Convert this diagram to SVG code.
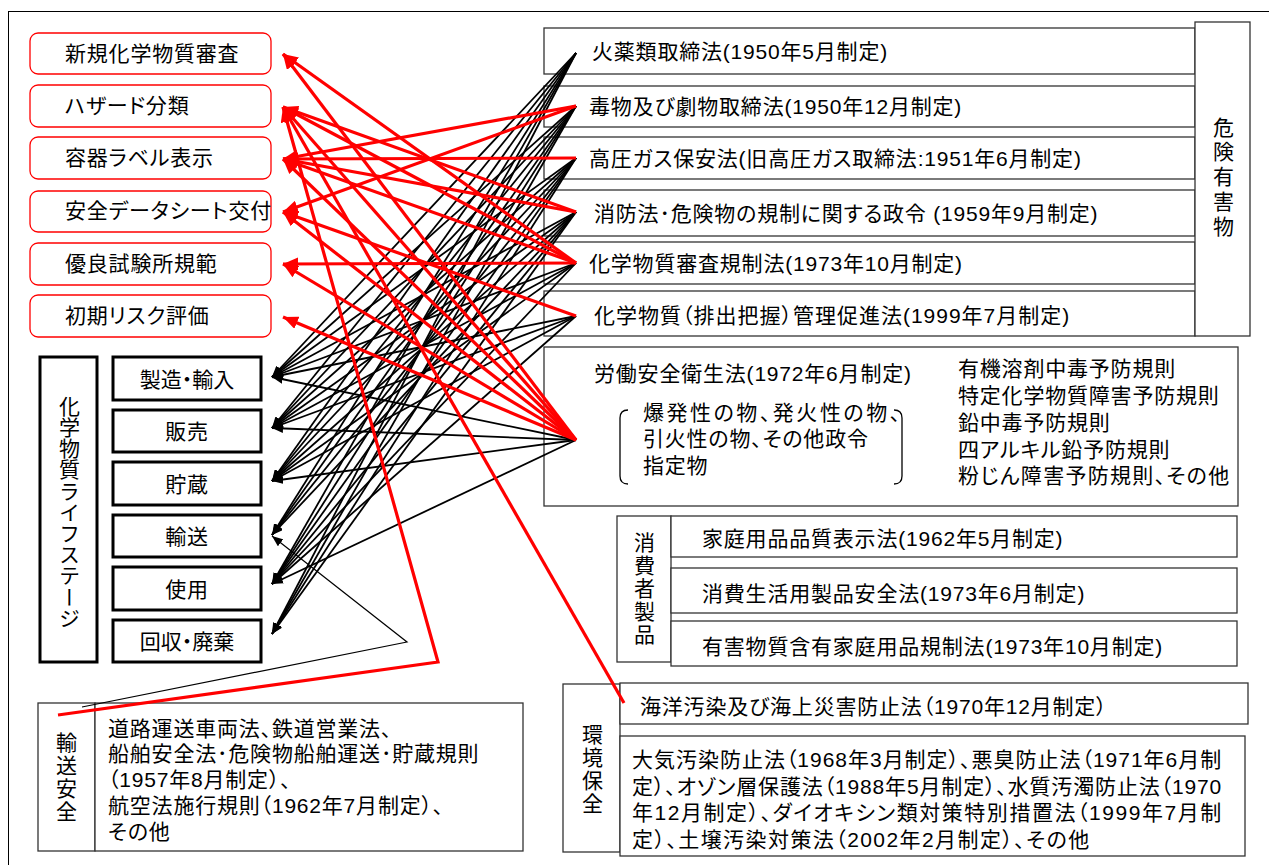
<svg xmlns="http://www.w3.org/2000/svg" width="1269" height="865" viewBox="0 0 1269 865">
<style>
text{font-family:"Liberation Sans","Noto Sans CJK JP",sans-serif;font-size:21px;fill:#000;letter-spacing:0.8px;font-feature-settings:"palt" 1}
.v{writing-mode:vertical-rl;text-anchor:middle;font-feature-settings:normal}
.m{text-anchor:middle}
.rb{fill:#fff;stroke:#f00;stroke-width:1.3}
.bx{fill:#fff;stroke:#333;stroke-width:1.3}
.sb{fill:#fff;stroke:#000;stroke-width:3}
.k{stroke:#000;stroke-width:1.8;fill:none;marker-end:url(#ab)}
.kt{stroke:#000;stroke-width:1.2;fill:none;marker-end:url(#ab)}
.r{stroke:#f00;stroke-width:3.2;fill:none;marker-end:url(#ar)}
.br{fill:none;stroke:#000;stroke-width:1.3}
</style>
<defs>
<marker id="ar" markerUnits="userSpaceOnUse" viewBox="0 0 15 13" markerWidth="15" markerHeight="13" refX="15" refY="6.5" orient="auto"><path d="M0,0 L15,6.5 L0,13 z" fill="#f00"/></marker>
<marker id="ab" markerUnits="userSpaceOnUse" viewBox="0 0 11 9" markerWidth="11" markerHeight="9" refX="11" refY="4.5" orient="auto"><path d="M0,0 L11,4.5 L0,9 z" fill="#000"/></marker>
</defs>
<rect x="8.5" y="11.5" width="1275" height="870" fill="#fff" stroke="#000" stroke-width="1"/>

<g id="hazard-elements">
<g id="n-shinki"><rect class="rb" x="30" y="33" width="241" height="41" rx="8"/><text x="65" y="61">新規化学物質審査</text></g>
<g id="n-hazard"><rect class="rb" x="30" y="85" width="241" height="42" rx="8"/><text x="65" y="113">ハザード分類</text></g>
<g id="n-label"><rect class="rb" x="30" y="137" width="241" height="42" rx="8"/><text x="65" y="165">容器ラベル表示</text></g>
<g id="n-sds"><rect class="rb" x="30" y="191" width="241" height="41" rx="8"/><text x="65" y="218">安全データシート交付</text></g>
<g id="n-glp"><rect class="rb" x="30" y="243" width="241" height="42" rx="8"/><text x="65" y="271">優良試験所規範</text></g>
<g id="n-risk"><rect class="rb" x="30" y="295" width="241" height="42" rx="8"/><text x="65" y="323">初期リスク評価</text></g>
</g>

<g id="lifecycle">
<g id="n-lc"><rect class="sb" x="40" y="357" width="57" height="305"/><text class="v" x="68" y="512" style="letter-spacing:0.2px">化学物質ライフステージ</text></g>
<g id="n-mfg"><rect class="sb" x="113" y="357" width="148" height="43"/><text class="m" x="187" y="387" style="letter-spacing:0px">製造・輸入</text></g>
<g id="n-sale"><rect class="sb" x="113" y="410" width="148" height="42"/><text class="m" x="187" y="439">販売</text></g>
<g id="n-store"><rect class="sb" x="113" y="462" width="148" height="43"/><text class="m" x="187" y="492">貯蔵</text></g>
<g id="n-trans"><rect class="sb" x="113" y="515" width="148" height="42"/><text class="m" x="187" y="544">輸送</text></g>
<g id="n-use"><rect class="sb" x="113" y="567" width="148" height="43"/><text class="m" x="187" y="597">使用</text></g>
<g id="n-waste"><rect class="sb" x="113" y="620" width="148" height="42"/><text class="m" x="187" y="649" style="letter-spacing:0px">回収・廃棄</text></g>
</g>

<g id="hazardous-laws">
<g id="n-kayaku"><rect class="bx" x="544" y="28" width="651" height="46"/><text x="592" y="59">火薬類取締法(1950年5月制定)</text></g>
<g id="n-doku"><rect class="bx" x="544" y="86" width="651" height="41"/><text x="589" y="114">毒物及び劇物取締法(1950年12月制定)</text></g>
<g id="n-gas"><rect class="bx" x="544" y="137" width="651" height="42"/><text x="589" y="166">高圧ガス保安法(旧高圧ガス取締法:1951年6月制定)</text></g>
<g id="n-fire"><rect class="bx" x="544" y="190" width="651" height="46"/><text x="594" y="221">消防法･危険物の規制に関する政令 (1959年9月制定)</text></g>
<g id="n-kashin"><rect class="bx" x="544" y="242" width="651" height="42"/><text x="589" y="271">化学物質審査規制法(1973年10月制定)</text></g>
<g id="n-prtr"><rect class="bx" x="544" y="291" width="651" height="45"/><text x="594" y="323" textLength="476">化学物質（排出把握）管理促進法(1999年7月制定)</text></g>
<g id="n-kiken"><rect class="bx" x="1195" y="22" width="55" height="314"/><text class="v" x="1222" y="178" style="letter-spacing:3.7px">危険有害物</text></g>
</g>

<g id="n-roan">
<rect class="bx" x="544" y="347" width="694" height="159"/>
<text x="594" y="381">労働安全衛生法(1972年6月制定)</text>
<path class="br" d="M628,410 Q620,410 620,418 L620,476 Q620,484 628,484"/>
<path class="br" d="M894,410 Q902,410 902,418 L902,476 Q902,484 894,484"/>
<text x="643" y="420" textLength="258">爆発性の物、発火性の物、</text>
<text x="643" y="446">引火性の物、その他政令</text>
<text x="643" y="473">指定物</text>
<text x="958" y="376">有機溶剤中毒予防規則</text>
<text x="958" y="403">特定化学物質障害予防規則</text>
<text x="958" y="430">鉛中毒予防規則</text>
<text x="958" y="457">四アルキル鉛予防規則</text>
<text x="958" y="483" textLength="272">粉じん障害予防規則、その他</text>
</g>

<g id="consumer">
<g id="n-cons"><rect class="bx" x="617" y="516" width="54" height="146"/><text class="v" x="643" y="589" style="letter-spacing:2px">消費者製品</text></g>
<g id="n-katei"><rect class="bx" x="671" y="516" width="566" height="41"/><text x="702" y="546">家庭用品品質表示法(1962年5月制定)</text></g>
<g id="n-shohi"><rect class="bx" x="671" y="568" width="566" height="45"/><text x="702" y="601">消費生活用製品安全法(1973年6月制定)</text></g>
<g id="n-yugai"><rect class="bx" x="671" y="621" width="566" height="45"/><text x="702" y="654">有害物質含有家庭用品規制法(1973年10月制定)</text></g>
</g>

<g id="environment">
<g id="n-env"><rect class="bx" x="563" y="684" width="57" height="168"/><text class="v" x="591" y="770" style="letter-spacing:2px">環境保全</text></g>
<g id="n-kaiyo"><rect class="bx" x="620" y="683" width="628" height="41"/><text x="640" y="714">海洋汚染及び海上災害防止法（1970年12月制定）</text></g>
<g id="n-envlaws"><rect class="bx" x="620" y="736" width="625" height="120"/>
<text x="632" y="767" textLength="590">大気汚染防止法（1968年3月制定）、悪臭防止法（1971年6月制</text>
<text x="632" y="794" textLength="590">定）、オゾン層保護法（1988年5月制定）、水質汚濁防止法（1970</text>
<text x="632" y="820" textLength="590">年12月制定）、ダイオキシン類対策特別措置法（1999年7月制</text>
<text x="632" y="847" textLength="458">定）、土壌汚染対策法（2002年2月制定）、その他</text>
</g>
</g>

<g id="transport">
<g id="n-tr"><rect class="bx" x="38" y="703" width="57" height="148"/><text class="v" x="65" y="778" style="letter-spacing:2px">輸送安全</text></g>
<g id="n-trlaws"><rect class="bx" x="95" y="703" width="428" height="148"/>
<text x="108" y="736">道路運送車両法、鉄道営業法、</text>
<text x="108" y="761">船舶安全法･危険物船舶運送･貯蔵規則</text>
<text x="108" y="787">（1957年8月制定）、</text>
<text x="108" y="813">航空法施行規則（1962年7月制定）、</text>
<text x="108" y="839">その他</text>
</g>
</g>

<g id="connectors">
<g id="black">
<line class="k" x1="576" y1="53" x2="272" y2="377"/><line class="k" x1="576" y1="53" x2="272" y2="428"/><line class="k" x1="576" y1="53" x2="272" y2="481"/><line class="k" x1="576" y1="53" x2="272" y2="535"/><line class="k" x1="576" y1="53" x2="272" y2="584"/><line class="k" x1="576" y1="53" x2="272" y2="634"/>
<line class="k" x1="576" y1="106" x2="272" y2="377"/><line class="k" x1="576" y1="106" x2="272" y2="428"/><line class="k" x1="576" y1="106" x2="272" y2="481"/><line class="k" x1="576" y1="106" x2="272" y2="535"/><line class="k" x1="576" y1="106" x2="272" y2="584"/><line class="k" x1="576" y1="106" x2="272" y2="634"/>
<line class="k" x1="576" y1="158" x2="272" y2="377"/><line class="k" x1="576" y1="158" x2="272" y2="428"/><line class="k" x1="576" y1="158" x2="272" y2="481"/><line class="k" x1="576" y1="158" x2="272" y2="535"/><line class="k" x1="576" y1="158" x2="272" y2="584"/><line class="k" x1="576" y1="158" x2="272" y2="634"/>
<line class="k" x1="576" y1="212" x2="272" y2="377"/><line class="k" x1="576" y1="212" x2="272" y2="428"/><line class="k" x1="576" y1="212" x2="272" y2="481"/><line class="k" x1="576" y1="212" x2="272" y2="535"/><line class="k" x1="576" y1="212" x2="272" y2="584"/><line class="k" x1="576" y1="212" x2="272" y2="634"/>
<line class="k" x1="576" y1="263" x2="272" y2="377"/><line class="k" x1="576" y1="263" x2="272" y2="428"/><line class="k" x1="576" y1="263" x2="272" y2="481"/><line class="k" x1="576" y1="263" x2="272" y2="584"/>
<line class="k" x1="576" y1="316" x2="272" y2="377"/><line class="k" x1="576" y1="316" x2="272" y2="428"/><line class="k" x1="576" y1="316" x2="272" y2="481"/><line class="k" x1="576" y1="316" x2="272" y2="584"/>
<line class="k" x1="576" y1="440" x2="272" y2="377"/><line class="k" x1="576" y1="440" x2="272" y2="428"/><line class="k" x1="576" y1="440" x2="272" y2="481"/><line class="k" x1="576" y1="440" x2="272" y2="584"/>
<polyline class="kt" points="82,707 407,642 272,536"/>
</g>
<g id="red">
<line class="r" x1="576" y1="263" x2="283" y2="54"/>
<line class="r" x1="576" y1="440" x2="283" y2="54"/>
<line class="r" x1="576" y1="212" x2="283" y2="107"/>
<line class="r" x1="576" y1="263" x2="283" y2="107"/>
<line class="r" x1="624" y1="703" x2="283" y2="107"/>
<polyline class="r" points="58,715 438,662 283,107"/>
<line class="r" x1="576" y1="440" x2="283" y2="107"/>
<line class="r" x1="576" y1="106" x2="283" y2="159"/>
<line class="r" x1="576" y1="158" x2="283" y2="159"/>
<line class="r" x1="576" y1="212" x2="283" y2="159"/>
<line class="r" x1="576" y1="263" x2="283" y2="159"/>
<line class="r" x1="576" y1="440" x2="283" y2="159"/>
<line class="r" x1="576" y1="106" x2="283" y2="212"/>
<line class="r" x1="576" y1="316" x2="283" y2="212"/>
<line class="r" x1="576" y1="440" x2="283" y2="212"/>
<line class="r" x1="576" y1="263" x2="283" y2="264"/>
<line class="r" x1="576" y1="440" x2="283" y2="264"/>
<line class="r" x1="576" y1="440" x2="283" y2="317"/>
</g>
</g>
</svg>
